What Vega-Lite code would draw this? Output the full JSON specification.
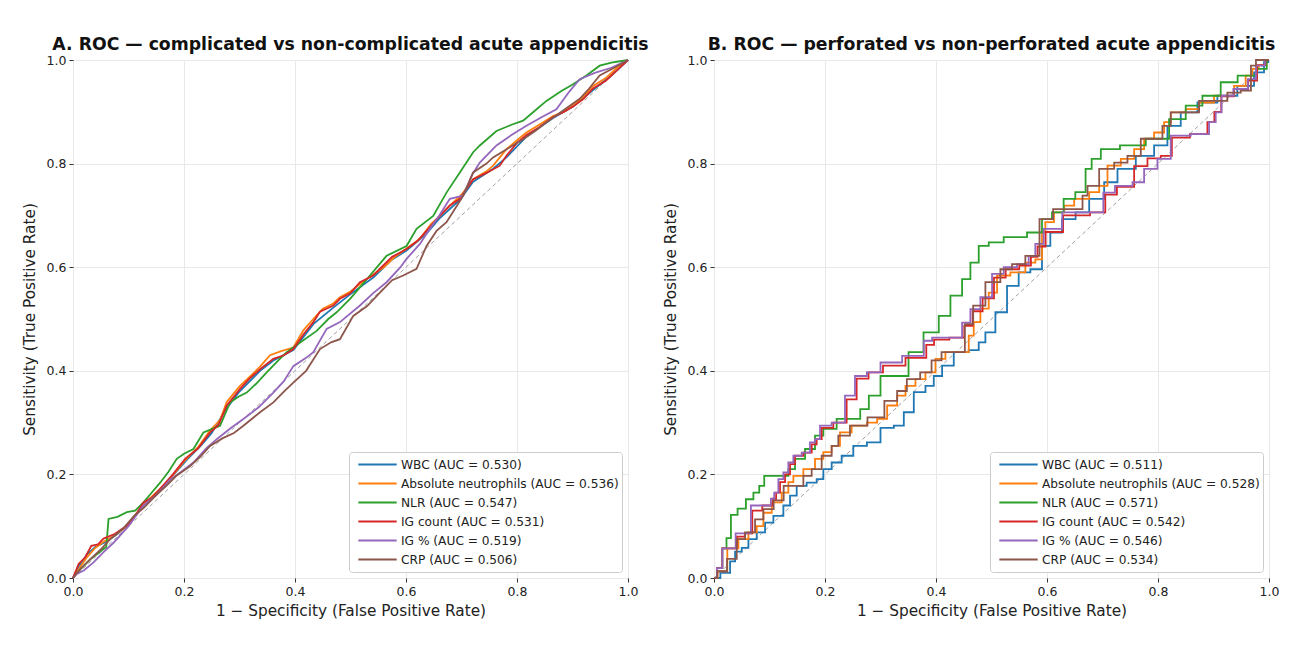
{
  "$schema": "https://vega.github.io/schema/vega-lite/v6.json",
  "background": "white",
  "padding": {"left": 21, "top": 35, "right": 5, "bottom": 5},
  "config": {
    "font": "DejaVu Sans",
    "view": {"stroke": "#333333", "strokeWidth": 1},
    "axis": {"domain": false, "grid": true, "gridColor": "#e8e8e8", "gridWidth": 1, "tickColor": "#333333", "tickSize": 4, "labelFontSize": 12.5, "labelColor": "#222222", "labelPadding": 3, "labelFlush": false, "labelOverlap": false, "titleFontSize": 15.3, "titleFontWeight": "normal", "titleColor": "#222222"},
    "axisX": {"titlePadding": 6},
    "axisY": {"titlePadding": 9},
    "title": {"fontSize": 17.3, "fontWeight": "bold", "color": "#111111", "offset": 1},
    "legend": {"orient": "bottom-right", "offset": 6, "fillColor": "white", "strokeColor": "#cccccc", "cornerRadius": 3, "padding": 3, "labelFontSize": 12.2, "labelLimit": 400, "labelColor": "#222222", "symbolType": "M-1.42,0H1.42", "symbolStrokeWidth": 2, "symbolSize": 729, "clipHeight": 19, "rowPadding": 0, "labelOffset": 9, "symbolOffset": 11}
  },
  "bounds": "flush",
  "spacing": 86,
  "resolve": {"scale": {"color": "independent"}, "legend": {"color": "independent"}},
  "datasets": {
    "diag": [{"x": 0, "y": 0}, {"x": 1, "y": 1}],
    "A": [
      {"s":"WBC (AUC = 0.530)","x":0,"y":0},{"s":"WBC (AUC = 0.530)","x":0.01,"y":0.022},{"s":"WBC (AUC = 0.530)","x":0.025,"y":0.045},{"s":"WBC (AUC = 0.530)","x":0.04,"y":0.06},{"s":"WBC (AUC = 0.530)","x":0.06,"y":0.07},{"s":"WBC (AUC = 0.530)","x":0.08,"y":0.085},{"s":"WBC (AUC = 0.530)","x":0.1,"y":0.105},{"s":"WBC (AUC = 0.530)","x":0.127,"y":0.14},{"s":"WBC (AUC = 0.530)","x":0.157,"y":0.17},{"s":"WBC (AUC = 0.530)","x":0.18,"y":0.198},{"s":"WBC (AUC = 0.530)","x":0.205,"y":0.228},{"s":"WBC (AUC = 0.530)","x":0.23,"y":0.255},{"s":"WBC (AUC = 0.530)","x":0.25,"y":0.28},{"s":"WBC (AUC = 0.530)","x":0.275,"y":0.325},{"s":"WBC (AUC = 0.530)","x":0.3,"y":0.36},{"s":"WBC (AUC = 0.530)","x":0.337,"y":0.4},{"s":"WBC (AUC = 0.530)","x":0.361,"y":0.42},{"s":"WBC (AUC = 0.530)","x":0.397,"y":0.44},{"s":"WBC (AUC = 0.530)","x":0.433,"y":0.49},{"s":"WBC (AUC = 0.530)","x":0.469,"y":0.522},{"s":"WBC (AUC = 0.530)","x":0.5,"y":0.548},{"s":"WBC (AUC = 0.530)","x":0.541,"y":0.58},{"s":"WBC (AUC = 0.530)","x":0.575,"y":0.615},{"s":"WBC (AUC = 0.530)","x":0.601,"y":0.632},{"s":"WBC (AUC = 0.530)","x":0.637,"y":0.665},{"s":"WBC (AUC = 0.530)","x":0.661,"y":0.695},{"s":"WBC (AUC = 0.530)","x":0.697,"y":0.73},{"s":"WBC (AUC = 0.530)","x":0.721,"y":0.765},{"s":"WBC (AUC = 0.530)","x":0.757,"y":0.79},{"s":"WBC (AUC = 0.530)","x":0.781,"y":0.812},{"s":"WBC (AUC = 0.530)","x":0.817,"y":0.852},{"s":"WBC (AUC = 0.530)","x":0.865,"y":0.888},{"s":"WBC (AUC = 0.530)","x":0.901,"y":0.91},{"s":"WBC (AUC = 0.530)","x":0.937,"y":0.942},{"s":"WBC (AUC = 0.530)","x":0.97,"y":0.97},{"s":"WBC (AUC = 0.530)","x":1,"y":1},
      {"s":"Absolute neutrophils (AUC = 0.536)","x":0,"y":0},{"s":"Absolute neutrophils (AUC = 0.536)","x":0.012,"y":0.02},{"s":"Absolute neutrophils (AUC = 0.536)","x":0.025,"y":0.04},{"s":"Absolute neutrophils (AUC = 0.536)","x":0.04,"y":0.058},{"s":"Absolute neutrophils (AUC = 0.536)","x":0.055,"y":0.07},{"s":"Absolute neutrophils (AUC = 0.536)","x":0.075,"y":0.082},{"s":"Absolute neutrophils (AUC = 0.536)","x":0.097,"y":0.1},{"s":"Absolute neutrophils (AUC = 0.536)","x":0.115,"y":0.125},{"s":"Absolute neutrophils (AUC = 0.536)","x":0.127,"y":0.142},{"s":"Absolute neutrophils (AUC = 0.536)","x":0.15,"y":0.165},{"s":"Absolute neutrophils (AUC = 0.536)","x":0.175,"y":0.192},{"s":"Absolute neutrophils (AUC = 0.536)","x":0.2,"y":0.225},{"s":"Absolute neutrophils (AUC = 0.536)","x":0.225,"y":0.252},{"s":"Absolute neutrophils (AUC = 0.536)","x":0.247,"y":0.285},{"s":"Absolute neutrophils (AUC = 0.536)","x":0.265,"y":0.305},{"s":"Absolute neutrophils (AUC = 0.536)","x":0.277,"y":0.34},{"s":"Absolute neutrophils (AUC = 0.536)","x":0.3,"y":0.37},{"s":"Absolute neutrophils (AUC = 0.536)","x":0.32,"y":0.39},{"s":"Absolute neutrophils (AUC = 0.536)","x":0.337,"y":0.408},{"s":"Absolute neutrophils (AUC = 0.536)","x":0.355,"y":0.43},{"s":"Absolute neutrophils (AUC = 0.536)","x":0.375,"y":0.438},{"s":"Absolute neutrophils (AUC = 0.536)","x":0.397,"y":0.445},{"s":"Absolute neutrophils (AUC = 0.536)","x":0.415,"y":0.478},{"s":"Absolute neutrophils (AUC = 0.536)","x":0.433,"y":0.5},{"s":"Absolute neutrophils (AUC = 0.536)","x":0.45,"y":0.52},{"s":"Absolute neutrophils (AUC = 0.536)","x":0.469,"y":0.53},{"s":"Absolute neutrophils (AUC = 0.536)","x":0.481,"y":0.542},{"s":"Absolute neutrophils (AUC = 0.536)","x":0.5,"y":0.553},{"s":"Absolute neutrophils (AUC = 0.536)","x":0.52,"y":0.57},{"s":"Absolute neutrophils (AUC = 0.536)","x":0.541,"y":0.586},{"s":"Absolute neutrophils (AUC = 0.536)","x":0.56,"y":0.6},{"s":"Absolute neutrophils (AUC = 0.536)","x":0.58,"y":0.62},{"s":"Absolute neutrophils (AUC = 0.536)","x":0.601,"y":0.636},{"s":"Absolute neutrophils (AUC = 0.536)","x":0.625,"y":0.655},{"s":"Absolute neutrophils (AUC = 0.536)","x":0.645,"y":0.683},{"s":"Absolute neutrophils (AUC = 0.536)","x":0.655,"y":0.693},{"s":"Absolute neutrophils (AUC = 0.536)","x":0.679,"y":0.719},{"s":"Absolute neutrophils (AUC = 0.536)","x":0.7,"y":0.74},{"s":"Absolute neutrophils (AUC = 0.536)","x":0.721,"y":0.77},{"s":"Absolute neutrophils (AUC = 0.536)","x":0.745,"y":0.785},{"s":"Absolute neutrophils (AUC = 0.536)","x":0.757,"y":0.796},{"s":"Absolute neutrophils (AUC = 0.536)","x":0.781,"y":0.828},{"s":"Absolute neutrophils (AUC = 0.536)","x":0.8,"y":0.845},{"s":"Absolute neutrophils (AUC = 0.536)","x":0.817,"y":0.86},{"s":"Absolute neutrophils (AUC = 0.536)","x":0.84,"y":0.875},{"s":"Absolute neutrophils (AUC = 0.536)","x":0.865,"y":0.892},{"s":"Absolute neutrophils (AUC = 0.536)","x":0.885,"y":0.9},{"s":"Absolute neutrophils (AUC = 0.536)","x":0.901,"y":0.912},{"s":"Absolute neutrophils (AUC = 0.536)","x":0.92,"y":0.93},{"s":"Absolute neutrophils (AUC = 0.536)","x":0.937,"y":0.95},{"s":"Absolute neutrophils (AUC = 0.536)","x":0.96,"y":0.965},{"s":"Absolute neutrophils (AUC = 0.536)","x":0.98,"y":0.985},{"s":"Absolute neutrophils (AUC = 0.536)","x":1,"y":1},
      {"s":"NLR (AUC = 0.547)","x":0,"y":0},{"s":"NLR (AUC = 0.547)","x":0.007,"y":0.01},{"s":"NLR (AUC = 0.547)","x":0.031,"y":0.036},{"s":"NLR (AUC = 0.547)","x":0.055,"y":0.056},{"s":"NLR (AUC = 0.547)","x":0.06,"y":0.06},{"s":"NLR (AUC = 0.547)","x":0.064,"y":0.114},{"s":"NLR (AUC = 0.547)","x":0.08,"y":0.118},{"s":"NLR (AUC = 0.547)","x":0.097,"y":0.127},{"s":"NLR (AUC = 0.547)","x":0.112,"y":0.13},{"s":"NLR (AUC = 0.547)","x":0.127,"y":0.146},{"s":"NLR (AUC = 0.547)","x":0.142,"y":0.165},{"s":"NLR (AUC = 0.547)","x":0.157,"y":0.184},{"s":"NLR (AUC = 0.547)","x":0.172,"y":0.205},{"s":"NLR (AUC = 0.547)","x":0.187,"y":0.23},{"s":"NLR (AUC = 0.547)","x":0.2,"y":0.24},{"s":"NLR (AUC = 0.547)","x":0.217,"y":0.249},{"s":"NLR (AUC = 0.547)","x":0.235,"y":0.281},{"s":"NLR (AUC = 0.547)","x":0.265,"y":0.294},{"s":"NLR (AUC = 0.547)","x":0.283,"y":0.339},{"s":"NLR (AUC = 0.547)","x":0.298,"y":0.35},{"s":"NLR (AUC = 0.547)","x":0.313,"y":0.358},{"s":"NLR (AUC = 0.547)","x":0.33,"y":0.375},{"s":"NLR (AUC = 0.547)","x":0.349,"y":0.397},{"s":"NLR (AUC = 0.547)","x":0.37,"y":0.42},{"s":"NLR (AUC = 0.547)","x":0.385,"y":0.436},{"s":"NLR (AUC = 0.547)","x":0.41,"y":0.455},{"s":"NLR (AUC = 0.547)","x":0.439,"y":0.477},{"s":"NLR (AUC = 0.547)","x":0.46,"y":0.5},{"s":"NLR (AUC = 0.547)","x":0.475,"y":0.513},{"s":"NLR (AUC = 0.547)","x":0.5,"y":0.54},{"s":"NLR (AUC = 0.547)","x":0.52,"y":0.565},{"s":"NLR (AUC = 0.547)","x":0.535,"y":0.584},{"s":"NLR (AUC = 0.547)","x":0.565,"y":0.622},{"s":"NLR (AUC = 0.547)","x":0.601,"y":0.641},{"s":"NLR (AUC = 0.547)","x":0.619,"y":0.674},{"s":"NLR (AUC = 0.547)","x":0.649,"y":0.699},{"s":"NLR (AUC = 0.547)","x":0.673,"y":0.744},{"s":"NLR (AUC = 0.547)","x":0.697,"y":0.783},{"s":"NLR (AUC = 0.547)","x":0.721,"y":0.822},{"s":"NLR (AUC = 0.547)","x":0.733,"y":0.835},{"s":"NLR (AUC = 0.547)","x":0.763,"y":0.863},{"s":"NLR (AUC = 0.547)","x":0.79,"y":0.875},{"s":"NLR (AUC = 0.547)","x":0.811,"y":0.883},{"s":"NLR (AUC = 0.547)","x":0.83,"y":0.9},{"s":"NLR (AUC = 0.547)","x":0.853,"y":0.921},{"s":"NLR (AUC = 0.547)","x":0.88,"y":0.94},{"s":"NLR (AUC = 0.547)","x":0.901,"y":0.953},{"s":"NLR (AUC = 0.547)","x":0.925,"y":0.97},{"s":"NLR (AUC = 0.547)","x":0.949,"y":0.989},{"s":"NLR (AUC = 0.547)","x":0.97,"y":0.995},{"s":"NLR (AUC = 0.547)","x":1,"y":1},
      {"s":"IG count (AUC = 0.531)","x":0,"y":0},{"s":"IG count (AUC = 0.531)","x":0.01,"y":0.027},{"s":"IG count (AUC = 0.531)","x":0.022,"y":0.04},{"s":"IG count (AUC = 0.531)","x":0.033,"y":0.062},{"s":"IG count (AUC = 0.531)","x":0.045,"y":0.065},{"s":"IG count (AUC = 0.531)","x":0.055,"y":0.076},{"s":"IG count (AUC = 0.531)","x":0.075,"y":0.085},{"s":"IG count (AUC = 0.531)","x":0.097,"y":0.101},{"s":"IG count (AUC = 0.531)","x":0.112,"y":0.12},{"s":"IG count (AUC = 0.531)","x":0.127,"y":0.146},{"s":"IG count (AUC = 0.531)","x":0.142,"y":0.155},{"s":"IG count (AUC = 0.531)","x":0.157,"y":0.172},{"s":"IG count (AUC = 0.531)","x":0.18,"y":0.2},{"s":"IG count (AUC = 0.531)","x":0.202,"y":0.23},{"s":"IG count (AUC = 0.531)","x":0.225,"y":0.25},{"s":"IG count (AUC = 0.531)","x":0.247,"y":0.281},{"s":"IG count (AUC = 0.531)","x":0.262,"y":0.295},{"s":"IG count (AUC = 0.531)","x":0.277,"y":0.333},{"s":"IG count (AUC = 0.531)","x":0.301,"y":0.365},{"s":"IG count (AUC = 0.531)","x":0.318,"y":0.385},{"s":"IG count (AUC = 0.531)","x":0.337,"y":0.403},{"s":"IG count (AUC = 0.531)","x":0.361,"y":0.423},{"s":"IG count (AUC = 0.531)","x":0.38,"y":0.43},{"s":"IG count (AUC = 0.531)","x":0.397,"y":0.442},{"s":"IG count (AUC = 0.531)","x":0.415,"y":0.47},{"s":"IG count (AUC = 0.531)","x":0.433,"y":0.494},{"s":"IG count (AUC = 0.531)","x":0.445,"y":0.514},{"s":"IG count (AUC = 0.531)","x":0.469,"y":0.526},{"s":"IG count (AUC = 0.531)","x":0.481,"y":0.539},{"s":"IG count (AUC = 0.531)","x":0.5,"y":0.55},{"s":"IG count (AUC = 0.531)","x":0.517,"y":0.571},{"s":"IG count (AUC = 0.531)","x":0.541,"y":0.584},{"s":"IG count (AUC = 0.531)","x":0.553,"y":0.597},{"s":"IG count (AUC = 0.531)","x":0.575,"y":0.62},{"s":"IG count (AUC = 0.531)","x":0.601,"y":0.635},{"s":"IG count (AUC = 0.531)","x":0.62,"y":0.65},{"s":"IG count (AUC = 0.531)","x":0.637,"y":0.67},{"s":"IG count (AUC = 0.531)","x":0.661,"y":0.699},{"s":"IG count (AUC = 0.531)","x":0.679,"y":0.719},{"s":"IG count (AUC = 0.531)","x":0.697,"y":0.732},{"s":"IG count (AUC = 0.531)","x":0.721,"y":0.77},{"s":"IG count (AUC = 0.531)","x":0.745,"y":0.782},{"s":"IG count (AUC = 0.531)","x":0.769,"y":0.796},{"s":"IG count (AUC = 0.531)","x":0.781,"y":0.815},{"s":"IG count (AUC = 0.531)","x":0.8,"y":0.84},{"s":"IG count (AUC = 0.531)","x":0.817,"y":0.855},{"s":"IG count (AUC = 0.531)","x":0.84,"y":0.87},{"s":"IG count (AUC = 0.531)","x":0.865,"y":0.89},{"s":"IG count (AUC = 0.531)","x":0.885,"y":0.9},{"s":"IG count (AUC = 0.531)","x":0.901,"y":0.91},{"s":"IG count (AUC = 0.531)","x":0.92,"y":0.925},{"s":"IG count (AUC = 0.531)","x":0.937,"y":0.945},{"s":"IG count (AUC = 0.531)","x":0.96,"y":0.96},{"s":"IG count (AUC = 0.531)","x":0.98,"y":0.98},{"s":"IG count (AUC = 0.531)","x":1,"y":1},
      {"s":"IG % (AUC = 0.519)","x":0,"y":0},{"s":"IG % (AUC = 0.519)","x":0.007,"y":0.008},{"s":"IG % (AUC = 0.519)","x":0.02,"y":0.015},{"s":"IG % (AUC = 0.519)","x":0.037,"y":0.03},{"s":"IG % (AUC = 0.519)","x":0.055,"y":0.05},{"s":"IG % (AUC = 0.519)","x":0.073,"y":0.068},{"s":"IG % (AUC = 0.519)","x":0.1,"y":0.1},{"s":"IG % (AUC = 0.519)","x":0.127,"y":0.14},{"s":"IG % (AUC = 0.519)","x":0.15,"y":0.16},{"s":"IG % (AUC = 0.519)","x":0.175,"y":0.19},{"s":"IG % (AUC = 0.519)","x":0.195,"y":0.205},{"s":"IG % (AUC = 0.519)","x":0.217,"y":0.223},{"s":"IG % (AUC = 0.519)","x":0.24,"y":0.25},{"s":"IG % (AUC = 0.519)","x":0.259,"y":0.268},{"s":"IG % (AUC = 0.519)","x":0.285,"y":0.29},{"s":"IG % (AUC = 0.519)","x":0.307,"y":0.307},{"s":"IG % (AUC = 0.519)","x":0.335,"y":0.33},{"s":"IG % (AUC = 0.519)","x":0.361,"y":0.358},{"s":"IG % (AUC = 0.519)","x":0.38,"y":0.38},{"s":"IG % (AUC = 0.519)","x":0.397,"y":0.409},{"s":"IG % (AUC = 0.519)","x":0.42,"y":0.425},{"s":"IG % (AUC = 0.519)","x":0.433,"y":0.436},{"s":"IG % (AUC = 0.519)","x":0.457,"y":0.481},{"s":"IG % (AUC = 0.519)","x":0.481,"y":0.494},{"s":"IG % (AUC = 0.519)","x":0.517,"y":0.526},{"s":"IG % (AUC = 0.519)","x":0.541,"y":0.55},{"s":"IG % (AUC = 0.519)","x":0.565,"y":0.571},{"s":"IG % (AUC = 0.519)","x":0.59,"y":0.6},{"s":"IG % (AUC = 0.519)","x":0.601,"y":0.616},{"s":"IG % (AUC = 0.519)","x":0.625,"y":0.645},{"s":"IG % (AUC = 0.519)","x":0.643,"y":0.674},{"s":"IG % (AUC = 0.519)","x":0.66,"y":0.7},{"s":"IG % (AUC = 0.519)","x":0.679,"y":0.732},{"s":"IG % (AUC = 0.519)","x":0.703,"y":0.738},{"s":"IG % (AUC = 0.519)","x":0.72,"y":0.78},{"s":"IG % (AUC = 0.519)","x":0.733,"y":0.802},{"s":"IG % (AUC = 0.519)","x":0.763,"y":0.835},{"s":"IG % (AUC = 0.519)","x":0.79,"y":0.855},{"s":"IG % (AUC = 0.519)","x":0.817,"y":0.873},{"s":"IG % (AUC = 0.519)","x":0.845,"y":0.89},{"s":"IG % (AUC = 0.519)","x":0.871,"y":0.905},{"s":"IG % (AUC = 0.519)","x":0.895,"y":0.94},{"s":"IG % (AUC = 0.519)","x":0.913,"y":0.963},{"s":"IG % (AUC = 0.519)","x":0.94,"y":0.975},{"s":"IG % (AUC = 0.519)","x":0.97,"y":0.985},{"s":"IG % (AUC = 0.519)","x":1,"y":1},
      {"s":"CRP (AUC = 0.506)","x":0,"y":0},{"s":"CRP (AUC = 0.506)","x":0.013,"y":0.017},{"s":"CRP (AUC = 0.506)","x":0.03,"y":0.035},{"s":"CRP (AUC = 0.506)","x":0.05,"y":0.055},{"s":"CRP (AUC = 0.506)","x":0.067,"y":0.075},{"s":"CRP (AUC = 0.506)","x":0.09,"y":0.095},{"s":"CRP (AUC = 0.506)","x":0.11,"y":0.12},{"s":"CRP (AUC = 0.506)","x":0.127,"y":0.135},{"s":"CRP (AUC = 0.506)","x":0.15,"y":0.16},{"s":"CRP (AUC = 0.506)","x":0.17,"y":0.18},{"s":"CRP (AUC = 0.506)","x":0.187,"y":0.198},{"s":"CRP (AUC = 0.506)","x":0.21,"y":0.215},{"s":"CRP (AUC = 0.506)","x":0.23,"y":0.235},{"s":"CRP (AUC = 0.506)","x":0.247,"y":0.255},{"s":"CRP (AUC = 0.506)","x":0.27,"y":0.27},{"s":"CRP (AUC = 0.506)","x":0.29,"y":0.28},{"s":"CRP (AUC = 0.506)","x":0.307,"y":0.294},{"s":"CRP (AUC = 0.506)","x":0.337,"y":0.32},{"s":"CRP (AUC = 0.506)","x":0.361,"y":0.339},{"s":"CRP (AUC = 0.506)","x":0.38,"y":0.36},{"s":"CRP (AUC = 0.506)","x":0.397,"y":0.377},{"s":"CRP (AUC = 0.506)","x":0.42,"y":0.4},{"s":"CRP (AUC = 0.506)","x":0.445,"y":0.442},{"s":"CRP (AUC = 0.506)","x":0.465,"y":0.455},{"s":"CRP (AUC = 0.506)","x":0.481,"y":0.461},{"s":"CRP (AUC = 0.506)","x":0.505,"y":0.506},{"s":"CRP (AUC = 0.506)","x":0.53,"y":0.525},{"s":"CRP (AUC = 0.506)","x":0.553,"y":0.551},{"s":"CRP (AUC = 0.506)","x":0.575,"y":0.575},{"s":"CRP (AUC = 0.506)","x":0.595,"y":0.584},{"s":"CRP (AUC = 0.506)","x":0.619,"y":0.597},{"s":"CRP (AUC = 0.506)","x":0.637,"y":0.641},{"s":"CRP (AUC = 0.506)","x":0.655,"y":0.67},{"s":"CRP (AUC = 0.506)","x":0.673,"y":0.687},{"s":"CRP (AUC = 0.506)","x":0.703,"y":0.738},{"s":"CRP (AUC = 0.506)","x":0.721,"y":0.783},{"s":"CRP (AUC = 0.506)","x":0.745,"y":0.8},{"s":"CRP (AUC = 0.506)","x":0.757,"y":0.812},{"s":"CRP (AUC = 0.506)","x":0.785,"y":0.83},{"s":"CRP (AUC = 0.506)","x":0.811,"y":0.847},{"s":"CRP (AUC = 0.506)","x":0.835,"y":0.865},{"s":"CRP (AUC = 0.506)","x":0.853,"y":0.88},{"s":"CRP (AUC = 0.506)","x":0.88,"y":0.9},{"s":"CRP (AUC = 0.506)","x":0.913,"y":0.925},{"s":"CRP (AUC = 0.506)","x":0.93,"y":0.945},{"s":"CRP (AUC = 0.506)","x":0.949,"y":0.97},{"s":"CRP (AUC = 0.506)","x":0.975,"y":0.985},{"s":"CRP (AUC = 0.506)","x":1,"y":1}
    ],
    "B": [
      {"s":"WBC (AUC = 0.511)","x":0,"y":0},{"s":"WBC (AUC = 0.511)","x":0.023,"y":0.01},{"s":"WBC (AUC = 0.511)","x":0.035,"y":0.032},{"s":"WBC (AUC = 0.511)","x":0.041,"y":0.051},{"s":"WBC (AUC = 0.511)","x":0.059,"y":0.058},{"s":"WBC (AUC = 0.511)","x":0.065,"y":0.075},{"s":"WBC (AUC = 0.511)","x":0.089,"y":0.088},{"s":"WBC (AUC = 0.511)","x":0.095,"y":0.107},{"s":"WBC (AUC = 0.511)","x":0.119,"y":0.12},{"s":"WBC (AUC = 0.511)","x":0.131,"y":0.14},{"s":"WBC (AUC = 0.511)","x":0.143,"y":0.159},{"s":"WBC (AUC = 0.511)","x":0.155,"y":0.178},{"s":"WBC (AUC = 0.511)","x":0.179,"y":0.184},{"s":"WBC (AUC = 0.511)","x":0.191,"y":0.191},{"s":"WBC (AUC = 0.511)","x":0.203,"y":0.21},{"s":"WBC (AUC = 0.511)","x":0.221,"y":0.223},{"s":"WBC (AUC = 0.511)","x":0.239,"y":0.236},{"s":"WBC (AUC = 0.511)","x":0.263,"y":0.255},{"s":"WBC (AUC = 0.511)","x":0.288,"y":0.262},{"s":"WBC (AUC = 0.511)","x":0.312,"y":0.29},{"s":"WBC (AUC = 0.511)","x":0.336,"y":0.294},{"s":"WBC (AUC = 0.511)","x":0.348,"y":0.32},{"s":"WBC (AUC = 0.511)","x":0.372,"y":0.359},{"s":"WBC (AUC = 0.511)","x":0.39,"y":0.371},{"s":"WBC (AUC = 0.511)","x":0.402,"y":0.39},{"s":"WBC (AUC = 0.511)","x":0.42,"y":0.41},{"s":"WBC (AUC = 0.511)","x":0.444,"y":0.436},{"s":"WBC (AUC = 0.511)","x":0.474,"y":0.44},{"s":"WBC (AUC = 0.511)","x":0.48,"y":0.455},{"s":"WBC (AUC = 0.511)","x":0.498,"y":0.474},{"s":"WBC (AUC = 0.511)","x":0.516,"y":0.513},{"s":"WBC (AUC = 0.511)","x":0.54,"y":0.564},{"s":"WBC (AUC = 0.511)","x":0.558,"y":0.59},{"s":"WBC (AUC = 0.511)","x":0.582,"y":0.596},{"s":"WBC (AUC = 0.511)","x":0.6,"y":0.641},{"s":"WBC (AUC = 0.511)","x":0.612,"y":0.667},{"s":"WBC (AUC = 0.511)","x":0.642,"y":0.693},{"s":"WBC (AUC = 0.511)","x":0.661,"y":0.706},{"s":"WBC (AUC = 0.511)","x":0.691,"y":0.732},{"s":"WBC (AUC = 0.511)","x":0.715,"y":0.764},{"s":"WBC (AUC = 0.511)","x":0.739,"y":0.79},{"s":"WBC (AUC = 0.511)","x":0.781,"y":0.815},{"s":"WBC (AUC = 0.511)","x":0.805,"y":0.835},{"s":"WBC (AUC = 0.511)","x":0.829,"y":0.873},{"s":"WBC (AUC = 0.511)","x":0.853,"y":0.899},{"s":"WBC (AUC = 0.511)","x":0.889,"y":0.918},{"s":"WBC (AUC = 0.511)","x":0.925,"y":0.931},{"s":"WBC (AUC = 0.511)","x":0.961,"y":0.95},{"s":"WBC (AUC = 0.511)","x":0.985,"y":0.976},{"s":"WBC (AUC = 0.511)","x":0.997,"y":0.996},{"s":"WBC (AUC = 0.511)","x":1,"y":1},
      {"s":"Absolute neutrophils (AUC = 0.528)","x":0,"y":0},{"s":"Absolute neutrophils (AUC = 0.528)","x":0.013,"y":0.013},{"s":"Absolute neutrophils (AUC = 0.528)","x":0.035,"y":0.057},{"s":"Absolute neutrophils (AUC = 0.528)","x":0.053,"y":0.075},{"s":"Absolute neutrophils (AUC = 0.528)","x":0.071,"y":0.088},{"s":"Absolute neutrophils (AUC = 0.528)","x":0.083,"y":0.1},{"s":"Absolute neutrophils (AUC = 0.528)","x":0.095,"y":0.126},{"s":"Absolute neutrophils (AUC = 0.528)","x":0.113,"y":0.146},{"s":"Absolute neutrophils (AUC = 0.528)","x":0.131,"y":0.165},{"s":"Absolute neutrophils (AUC = 0.528)","x":0.137,"y":0.185},{"s":"Absolute neutrophils (AUC = 0.528)","x":0.149,"y":0.197},{"s":"Absolute neutrophils (AUC = 0.528)","x":0.173,"y":0.21},{"s":"Absolute neutrophils (AUC = 0.528)","x":0.191,"y":0.23},{"s":"Absolute neutrophils (AUC = 0.528)","x":0.203,"y":0.243},{"s":"Absolute neutrophils (AUC = 0.528)","x":0.221,"y":0.255},{"s":"Absolute neutrophils (AUC = 0.528)","x":0.233,"y":0.281},{"s":"Absolute neutrophils (AUC = 0.528)","x":0.263,"y":0.294},{"s":"Absolute neutrophils (AUC = 0.528)","x":0.288,"y":0.3},{"s":"Absolute neutrophils (AUC = 0.528)","x":0.3,"y":0.307},{"s":"Absolute neutrophils (AUC = 0.528)","x":0.324,"y":0.333},{"s":"Absolute neutrophils (AUC = 0.528)","x":0.336,"y":0.352},{"s":"Absolute neutrophils (AUC = 0.528)","x":0.354,"y":0.371},{"s":"Absolute neutrophils (AUC = 0.528)","x":0.372,"y":0.384},{"s":"Absolute neutrophils (AUC = 0.528)","x":0.39,"y":0.397},{"s":"Absolute neutrophils (AUC = 0.528)","x":0.408,"y":0.423},{"s":"Absolute neutrophils (AUC = 0.528)","x":0.426,"y":0.436},{"s":"Absolute neutrophils (AUC = 0.528)","x":0.456,"y":0.436},{"s":"Absolute neutrophils (AUC = 0.528)","x":0.462,"y":0.468},{"s":"Absolute neutrophils (AUC = 0.528)","x":0.474,"y":0.494},{"s":"Absolute neutrophils (AUC = 0.528)","x":0.486,"y":0.52},{"s":"Absolute neutrophils (AUC = 0.528)","x":0.504,"y":0.551},{"s":"Absolute neutrophils (AUC = 0.528)","x":0.516,"y":0.584},{"s":"Absolute neutrophils (AUC = 0.528)","x":0.552,"y":0.59},{"s":"Absolute neutrophils (AUC = 0.528)","x":0.57,"y":0.609},{"s":"Absolute neutrophils (AUC = 0.528)","x":0.588,"y":0.615},{"s":"Absolute neutrophils (AUC = 0.528)","x":0.594,"y":0.667},{"s":"Absolute neutrophils (AUC = 0.528)","x":0.6,"y":0.687},{"s":"Absolute neutrophils (AUC = 0.528)","x":0.625,"y":0.706},{"s":"Absolute neutrophils (AUC = 0.528)","x":0.637,"y":0.719},{"s":"Absolute neutrophils (AUC = 0.528)","x":0.661,"y":0.732},{"s":"Absolute neutrophils (AUC = 0.528)","x":0.691,"y":0.745},{"s":"Absolute neutrophils (AUC = 0.528)","x":0.697,"y":0.757},{"s":"Absolute neutrophils (AUC = 0.528)","x":0.721,"y":0.796},{"s":"Absolute neutrophils (AUC = 0.528)","x":0.745,"y":0.809},{"s":"Absolute neutrophils (AUC = 0.528)","x":0.769,"y":0.828},{"s":"Absolute neutrophils (AUC = 0.528)","x":0.781,"y":0.848},{"s":"Absolute neutrophils (AUC = 0.528)","x":0.805,"y":0.86},{"s":"Absolute neutrophils (AUC = 0.528)","x":0.817,"y":0.88},{"s":"Absolute neutrophils (AUC = 0.528)","x":0.829,"y":0.899},{"s":"Absolute neutrophils (AUC = 0.528)","x":0.871,"y":0.905},{"s":"Absolute neutrophils (AUC = 0.528)","x":0.877,"y":0.918},{"s":"Absolute neutrophils (AUC = 0.528)","x":0.925,"y":0.931},{"s":"Absolute neutrophils (AUC = 0.528)","x":0.949,"y":0.95},{"s":"Absolute neutrophils (AUC = 0.528)","x":0.967,"y":0.97},{"s":"Absolute neutrophils (AUC = 0.528)","x":0.973,"y":0.983},{"s":"Absolute neutrophils (AUC = 0.528)","x":0.99,"y":0.99},{"s":"Absolute neutrophils (AUC = 0.528)","x":1,"y":1},
      {"s":"NLR (AUC = 0.571)","x":0,"y":0},{"s":"NLR (AUC = 0.571)","x":0.011,"y":0.019},{"s":"NLR (AUC = 0.571)","x":0.019,"y":0.057},{"s":"NLR (AUC = 0.571)","x":0.026,"y":0.077},{"s":"NLR (AUC = 0.571)","x":0.035,"y":0.122},{"s":"NLR (AUC = 0.571)","x":0.05,"y":0.134},{"s":"NLR (AUC = 0.571)","x":0.065,"y":0.152},{"s":"NLR (AUC = 0.571)","x":0.077,"y":0.165},{"s":"NLR (AUC = 0.571)","x":0.086,"y":0.178},{"s":"NLR (AUC = 0.571)","x":0.095,"y":0.197},{"s":"NLR (AUC = 0.571)","x":0.131,"y":0.197},{"s":"NLR (AUC = 0.571)","x":0.137,"y":0.21},{"s":"NLR (AUC = 0.571)","x":0.155,"y":0.23},{"s":"NLR (AUC = 0.571)","x":0.173,"y":0.249},{"s":"NLR (AUC = 0.571)","x":0.191,"y":0.275},{"s":"NLR (AUC = 0.571)","x":0.203,"y":0.288},{"s":"NLR (AUC = 0.571)","x":0.239,"y":0.307},{"s":"NLR (AUC = 0.571)","x":0.257,"y":0.307},{"s":"NLR (AUC = 0.571)","x":0.27,"y":0.326},{"s":"NLR (AUC = 0.571)","x":0.288,"y":0.352},{"s":"NLR (AUC = 0.571)","x":0.312,"y":0.39},{"s":"NLR (AUC = 0.571)","x":0.342,"y":0.39},{"s":"NLR (AUC = 0.571)","x":0.359,"y":0.436},{"s":"NLR (AUC = 0.571)","x":0.396,"y":0.474},{"s":"NLR (AUC = 0.571)","x":0.414,"y":0.506},{"s":"NLR (AUC = 0.571)","x":0.438,"y":0.545},{"s":"NLR (AUC = 0.571)","x":0.456,"y":0.577},{"s":"NLR (AUC = 0.571)","x":0.468,"y":0.609},{"s":"NLR (AUC = 0.571)","x":0.486,"y":0.641},{"s":"NLR (AUC = 0.571)","x":0.504,"y":0.648},{"s":"NLR (AUC = 0.571)","x":0.54,"y":0.658},{"s":"NLR (AUC = 0.571)","x":0.588,"y":0.667},{"s":"NLR (AUC = 0.571)","x":0.594,"y":0.693},{"s":"NLR (AUC = 0.571)","x":0.624,"y":0.706},{"s":"NLR (AUC = 0.571)","x":0.636,"y":0.732},{"s":"NLR (AUC = 0.571)","x":0.666,"y":0.745},{"s":"NLR (AUC = 0.571)","x":0.673,"y":0.79},{"s":"NLR (AUC = 0.571)","x":0.688,"y":0.809},{"s":"NLR (AUC = 0.571)","x":0.706,"y":0.828},{"s":"NLR (AUC = 0.571)","x":0.757,"y":0.835},{"s":"NLR (AUC = 0.571)","x":0.799,"y":0.848},{"s":"NLR (AUC = 0.571)","x":0.841,"y":0.886},{"s":"NLR (AUC = 0.571)","x":0.859,"y":0.912},{"s":"NLR (AUC = 0.571)","x":0.901,"y":0.931},{"s":"NLR (AUC = 0.571)","x":0.925,"y":0.957},{"s":"NLR (AUC = 0.571)","x":0.962,"y":0.97},{"s":"NLR (AUC = 0.571)","x":0.992,"y":0.983},{"s":"NLR (AUC = 0.571)","x":1,"y":1},
      {"s":"IG count (AUC = 0.542)","x":0,"y":0},{"s":"IG count (AUC = 0.542)","x":0.011,"y":0.019},{"s":"IG count (AUC = 0.542)","x":0.019,"y":0.057},{"s":"IG count (AUC = 0.542)","x":0.04,"y":0.057},{"s":"IG count (AUC = 0.542)","x":0.043,"y":0.08},{"s":"IG count (AUC = 0.542)","x":0.068,"y":0.086},{"s":"IG count (AUC = 0.542)","x":0.07,"y":0.13},{"s":"IG count (AUC = 0.542)","x":0.104,"y":0.14},{"s":"IG count (AUC = 0.542)","x":0.108,"y":0.153},{"s":"IG count (AUC = 0.542)","x":0.116,"y":0.165},{"s":"IG count (AUC = 0.542)","x":0.122,"y":0.185},{"s":"IG count (AUC = 0.542)","x":0.134,"y":0.2},{"s":"IG count (AUC = 0.542)","x":0.14,"y":0.22},{"s":"IG count (AUC = 0.542)","x":0.152,"y":0.236},{"s":"IG count (AUC = 0.542)","x":0.17,"y":0.242},{"s":"IG count (AUC = 0.542)","x":0.182,"y":0.258},{"s":"IG count (AUC = 0.542)","x":0.188,"y":0.268},{"s":"IG count (AUC = 0.542)","x":0.2,"y":0.29},{"s":"IG count (AUC = 0.542)","x":0.23,"y":0.3},{"s":"IG count (AUC = 0.542)","x":0.248,"y":0.345},{"s":"IG count (AUC = 0.542)","x":0.266,"y":0.385},{"s":"IG count (AUC = 0.542)","x":0.291,"y":0.397},{"s":"IG count (AUC = 0.542)","x":0.318,"y":0.41},{"s":"IG count (AUC = 0.542)","x":0.372,"y":0.425},{"s":"IG count (AUC = 0.542)","x":0.393,"y":0.45},{"s":"IG count (AUC = 0.542)","x":0.4,"y":0.46},{"s":"IG count (AUC = 0.542)","x":0.448,"y":0.464},{"s":"IG count (AUC = 0.542)","x":0.454,"y":0.487},{"s":"IG count (AUC = 0.542)","x":0.478,"y":0.515},{"s":"IG count (AUC = 0.542)","x":0.49,"y":0.54},{"s":"IG count (AUC = 0.542)","x":0.519,"y":0.58},{"s":"IG count (AUC = 0.542)","x":0.532,"y":0.596},{"s":"IG count (AUC = 0.542)","x":0.568,"y":0.603},{"s":"IG count (AUC = 0.542)","x":0.574,"y":0.62},{"s":"IG count (AUC = 0.542)","x":0.592,"y":0.64},{"s":"IG count (AUC = 0.542)","x":0.603,"y":0.668},{"s":"IG count (AUC = 0.542)","x":0.655,"y":0.7},{"s":"IG count (AUC = 0.542)","x":0.7,"y":0.706},{"s":"IG count (AUC = 0.542)","x":0.71,"y":0.74},{"s":"IG count (AUC = 0.542)","x":0.742,"y":0.755},{"s":"IG count (AUC = 0.542)","x":0.772,"y":0.795},{"s":"IG count (AUC = 0.542)","x":0.79,"y":0.81},{"s":"IG count (AUC = 0.542)","x":0.82,"y":0.815},{"s":"IG count (AUC = 0.542)","x":0.83,"y":0.85},{"s":"IG count (AUC = 0.542)","x":0.885,"y":0.857},{"s":"IG count (AUC = 0.542)","x":0.893,"y":0.88},{"s":"IG count (AUC = 0.542)","x":0.91,"y":0.9},{"s":"IG count (AUC = 0.542)","x":0.918,"y":0.93},{"s":"IG count (AUC = 0.542)","x":0.955,"y":0.944},{"s":"IG count (AUC = 0.542)","x":0.97,"y":0.96},{"s":"IG count (AUC = 0.542)","x":0.987,"y":0.99},{"s":"IG count (AUC = 0.542)","x":1,"y":1},
      {"s":"IG % (AUC = 0.546)","x":0,"y":0},{"s":"IG % (AUC = 0.546)","x":0.011,"y":0.019},{"s":"IG % (AUC = 0.546)","x":0.019,"y":0.057},{"s":"IG % (AUC = 0.546)","x":0.038,"y":0.057},{"s":"IG % (AUC = 0.546)","x":0.04,"y":0.086},{"s":"IG % (AUC = 0.546)","x":0.065,"y":0.086},{"s":"IG % (AUC = 0.546)","x":0.068,"y":0.14},{"s":"IG % (AUC = 0.546)","x":0.101,"y":0.14},{"s":"IG % (AUC = 0.546)","x":0.104,"y":0.153},{"s":"IG % (AUC = 0.546)","x":0.113,"y":0.165},{"s":"IG % (AUC = 0.546)","x":0.119,"y":0.191},{"s":"IG % (AUC = 0.546)","x":0.131,"y":0.204},{"s":"IG % (AUC = 0.546)","x":0.137,"y":0.223},{"s":"IG % (AUC = 0.546)","x":0.149,"y":0.236},{"s":"IG % (AUC = 0.546)","x":0.167,"y":0.242},{"s":"IG % (AUC = 0.546)","x":0.179,"y":0.262},{"s":"IG % (AUC = 0.546)","x":0.185,"y":0.268},{"s":"IG % (AUC = 0.546)","x":0.197,"y":0.294},{"s":"IG % (AUC = 0.546)","x":0.227,"y":0.3},{"s":"IG % (AUC = 0.546)","x":0.245,"y":0.352},{"s":"IG % (AUC = 0.546)","x":0.263,"y":0.39},{"s":"IG % (AUC = 0.546)","x":0.288,"y":0.397},{"s":"IG % (AUC = 0.546)","x":0.312,"y":0.416},{"s":"IG % (AUC = 0.546)","x":0.366,"y":0.429},{"s":"IG % (AUC = 0.546)","x":0.39,"y":0.458},{"s":"IG % (AUC = 0.546)","x":0.396,"y":0.464},{"s":"IG % (AUC = 0.546)","x":0.444,"y":0.464},{"s":"IG % (AUC = 0.546)","x":0.45,"y":0.493},{"s":"IG % (AUC = 0.546)","x":0.474,"y":0.519},{"s":"IG % (AUC = 0.546)","x":0.486,"y":0.542},{"s":"IG % (AUC = 0.546)","x":0.516,"y":0.587},{"s":"IG % (AUC = 0.546)","x":0.528,"y":0.6},{"s":"IG % (AUC = 0.546)","x":0.564,"y":0.606},{"s":"IG % (AUC = 0.546)","x":0.57,"y":0.622},{"s":"IG % (AUC = 0.546)","x":0.588,"y":0.645},{"s":"IG % (AUC = 0.546)","x":0.6,"y":0.674},{"s":"IG % (AUC = 0.546)","x":0.655,"y":0.706},{"s":"IG % (AUC = 0.546)","x":0.697,"y":0.706},{"s":"IG % (AUC = 0.546)","x":0.706,"y":0.744},{"s":"IG % (AUC = 0.546)","x":0.739,"y":0.757},{"s":"IG % (AUC = 0.546)","x":0.769,"y":0.764},{"s":"IG % (AUC = 0.546)","x":0.781,"y":0.79},{"s":"IG % (AUC = 0.546)","x":0.817,"y":0.809},{"s":"IG % (AUC = 0.546)","x":0.829,"y":0.854},{"s":"IG % (AUC = 0.546)","x":0.889,"y":0.857},{"s":"IG % (AUC = 0.546)","x":0.895,"y":0.88},{"s":"IG % (AUC = 0.546)","x":0.913,"y":0.899},{"s":"IG % (AUC = 0.546)","x":0.916,"y":0.931},{"s":"IG % (AUC = 0.546)","x":0.956,"y":0.944},{"s":"IG % (AUC = 0.546)","x":0.968,"y":0.963},{"s":"IG % (AUC = 0.546)","x":0.985,"y":0.989},{"s":"IG % (AUC = 0.546)","x":1,"y":1},
      {"s":"CRP (AUC = 0.534)","x":0,"y":0},{"s":"CRP (AUC = 0.534)","x":0.012,"y":0.013},{"s":"CRP (AUC = 0.534)","x":0.035,"y":0.037},{"s":"CRP (AUC = 0.534)","x":0.047,"y":0.075},{"s":"CRP (AUC = 0.534)","x":0.065,"y":0.088},{"s":"CRP (AUC = 0.534)","x":0.083,"y":0.113},{"s":"CRP (AUC = 0.534)","x":0.095,"y":0.133},{"s":"CRP (AUC = 0.534)","x":0.12,"y":0.15},{"s":"CRP (AUC = 0.534)","x":0.131,"y":0.178},{"s":"CRP (AUC = 0.534)","x":0.155,"y":0.178},{"s":"CRP (AUC = 0.534)","x":0.167,"y":0.197},{"s":"CRP (AUC = 0.534)","x":0.185,"y":0.21},{"s":"CRP (AUC = 0.534)","x":0.203,"y":0.236},{"s":"CRP (AUC = 0.534)","x":0.221,"y":0.255},{"s":"CRP (AUC = 0.534)","x":0.227,"y":0.275},{"s":"CRP (AUC = 0.534)","x":0.263,"y":0.294},{"s":"CRP (AUC = 0.534)","x":0.29,"y":0.31},{"s":"CRP (AUC = 0.534)","x":0.324,"y":0.342},{"s":"CRP (AUC = 0.534)","x":0.336,"y":0.361},{"s":"CRP (AUC = 0.534)","x":0.359,"y":0.384},{"s":"CRP (AUC = 0.534)","x":0.384,"y":0.397},{"s":"CRP (AUC = 0.534)","x":0.4,"y":0.42},{"s":"CRP (AUC = 0.534)","x":0.42,"y":0.436},{"s":"CRP (AUC = 0.534)","x":0.444,"y":0.436},{"s":"CRP (AUC = 0.534)","x":0.46,"y":0.49},{"s":"CRP (AUC = 0.534)","x":0.474,"y":0.526},{"s":"CRP (AUC = 0.534)","x":0.504,"y":0.571},{"s":"CRP (AUC = 0.534)","x":0.528,"y":0.596},{"s":"CRP (AUC = 0.534)","x":0.546,"y":0.606},{"s":"CRP (AUC = 0.534)","x":0.576,"y":0.622},{"s":"CRP (AUC = 0.534)","x":0.597,"y":0.693},{"s":"CRP (AUC = 0.534)","x":0.625,"y":0.712},{"s":"CRP (AUC = 0.534)","x":0.661,"y":0.712},{"s":"CRP (AUC = 0.534)","x":0.667,"y":0.738},{"s":"CRP (AUC = 0.534)","x":0.679,"y":0.757},{"s":"CRP (AUC = 0.534)","x":0.709,"y":0.79},{"s":"CRP (AUC = 0.534)","x":0.733,"y":0.802},{"s":"CRP (AUC = 0.534)","x":0.757,"y":0.815},{"s":"CRP (AUC = 0.534)","x":0.781,"y":0.848},{"s":"CRP (AUC = 0.534)","x":0.799,"y":0.848},{"s":"CRP (AUC = 0.534)","x":0.817,"y":0.873},{"s":"CRP (AUC = 0.534)","x":0.829,"y":0.899},{"s":"CRP (AUC = 0.534)","x":0.871,"y":0.899},{"s":"CRP (AUC = 0.534)","x":0.877,"y":0.921},{"s":"CRP (AUC = 0.534)","x":0.913,"y":0.921},{"s":"CRP (AUC = 0.534)","x":0.937,"y":0.937},{"s":"CRP (AUC = 0.534)","x":0.961,"y":0.941},{"s":"CRP (AUC = 0.534)","x":0.974,"y":0.989},{"s":"CRP (AUC = 0.534)","x":0.979,"y":1},{"s":"CRP (AUC = 0.534)","x":1,"y":1}
    ]
  },
  "hconcat": [
    {
      "width": 555, "height": 518,
      "title": {"text": "A. ROC — complicated vs non-complicated acute appendicitis"},
      "encoding": {
        "x": {"field": "x", "type": "quantitative", "scale": {"domain": [0, 1], "nice": false}, "axis": {"values": [0, 0.2, 0.4, 0.6, 0.8, 1], "format": ".1f", "title": "1 − Specificity (False Positive Rate)"}},
        "y": {"field": "y", "type": "quantitative", "scale": {"domain": [0, 1], "nice": false}, "axis": {"values": [0, 0.2, 0.4, 0.6, 0.8, 1], "format": ".1f", "title": "Sensitivity (True Positive Rate)"}}
      },
      "layer": [
        {"data": {"name": "diag"}, "mark": {"type": "line", "color": "#a0a0a0", "strokeWidth": 1, "strokeDash": [4, 3]}},
        {"data": {"name": "A"}, "mark": {"type": "line", "strokeWidth": 1.8, "interpolate": "linear"},
         "encoding": {
           "color": {"field": "s", "type": "nominal", "title": null,
             "scale": {"domain": ["WBC (AUC = 0.530)", "Absolute neutrophils (AUC = 0.536)", "NLR (AUC = 0.547)", "IG count (AUC = 0.531)", "IG % (AUC = 0.519)", "CRP (AUC = 0.506)"], "range": ["#1f77b4", "#ff7f0e", "#2ca02c", "#d62728", "#9467bd", "#8c564b"]}},
           "order": {"value": null}
         }}
      ]
    },
    {
      "width": 555, "height": 518,
      "title": {"text": "B. ROC — perforated vs non-perforated acute appendicitis"},
      "encoding": {
        "x": {"field": "x", "type": "quantitative", "scale": {"domain": [0, 1], "nice": false}, "axis": {"values": [0, 0.2, 0.4, 0.6, 0.8, 1], "format": ".1f", "title": "1 − Specificity (False Positive Rate)"}},
        "y": {"field": "y", "type": "quantitative", "scale": {"domain": [0, 1], "nice": false}, "axis": {"values": [0, 0.2, 0.4, 0.6, 0.8, 1], "format": ".1f", "title": "Sensitivity (True Positive Rate)"}}
      },
      "layer": [
        {"data": {"name": "diag"}, "mark": {"type": "line", "color": "#a0a0a0", "strokeWidth": 1, "strokeDash": [4, 3]}},
        {"data": {"name": "B"}, "mark": {"type": "line", "strokeWidth": 1.8, "interpolate": "step"},
         "encoding": {
           "color": {"field": "s", "type": "nominal", "title": null,
             "scale": {"domain": ["WBC (AUC = 0.511)", "Absolute neutrophils (AUC = 0.528)", "NLR (AUC = 0.571)", "IG count (AUC = 0.542)", "IG % (AUC = 0.546)", "CRP (AUC = 0.534)"], "range": ["#1f77b4", "#ff7f0e", "#2ca02c", "#d62728", "#9467bd", "#8c564b"]}},
           "order": {"value": null}
         }}
      ]
    }
  ]
}
